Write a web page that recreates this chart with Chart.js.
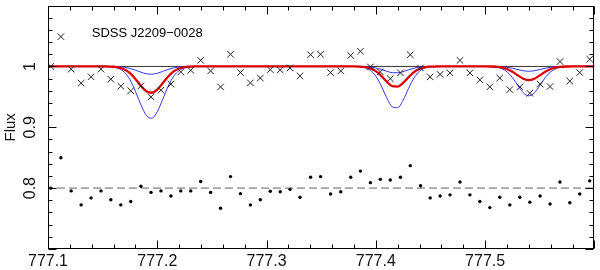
<!DOCTYPE html>
<html><head><meta charset="utf-8">
<script src="https://cdn.jsdelivr.net/npm/chart.js@4.4.1/dist/chart.umd.min.js"></script>
<style>html,body{margin:0;padding:0;background:#fff;}#wrap{width:600px;height:270px;}</style>
</head><body><div id="wrap"><canvas id="c" width="600" height="270"></canvas></div>
<script>
// ---- observed spectrum (wavelength in nm) ----
const wavelength = [777.1025,777.1118,777.1212,777.1303,777.1394,777.1485,777.1575,777.1666,777.1757,777.1850,
  777.1943,777.2034,777.2125,777.2215,777.2306,777.2397,777.2488,777.2579,777.2670,777.2761,
  777.2852,777.2943,777.3034,777.3125,777.3215,777.3306,777.3403,777.3494,777.3586,777.3679,
  777.3770,777.3859,777.3950,777.4041,777.4132,777.4225,777.4315,777.4409,777.4497,777.4588,
  777.4679,777.4770,777.4861,777.4952,777.5043,777.5134,777.5226,777.5318,777.5409,777.5503,
  777.5594,777.5685,777.5775,777.5866,777.5957];
const flux = [1.000,1.049,0.9955,0.9725,0.983,0.9955,0.979,0.9676,0.960,0.968,
  0.950,0.961,0.971,0.991,0.9938,1.010,0.9926,0.9664,1.020,0.990,
  0.973,0.981,0.9948,0.9943,0.9975,0.9845,1.0193,1.020,0.990,0.9926,
  1.018,1.025,0.9992,0.991,0.980,0.9894,1.0193,0.9975,0.9828,0.987,
  0.9894,1.010,0.9894,0.978,0.9664,0.981,0.962,0.9664,0.956,0.971,
  0.967,1.008,0.976,0.990,1.012];
const residual = [0.800,0.850,0.7955,0.7725,0.784,0.7955,0.781,0.7725,0.778,0.803,
  0.793,0.7955,0.787,0.7955,0.7955,0.811,0.793,0.767,0.819,0.791,
  0.7725,0.781,0.795,0.794,0.798,0.785,0.818,0.819,0.7905,0.794,
  0.818,0.828,0.809,0.8145,0.8135,0.818,0.837,0.804,0.784,0.787,
  0.789,0.810,0.789,0.778,0.768,0.785,0.7725,0.785,0.777,0.787,
  0.774,0.810,0.776,0.7905,0.812];

// ---- model profiles ----
const modelWave = [777.100,777.150,
  777.155,777.160,777.165,777.170,777.175,777.180,777.185,777.190,777.195,777.200,777.205,777.210,777.215,777.220,777.225,777.230,777.235,
  777.240,777.375,
  777.380,777.385,777.390,777.395,777.400,777.405,777.410,777.415,777.420,777.425,777.430,777.435,777.440,777.445,777.450,777.455,
  777.460,777.495,
  777.500,777.505,777.510,777.515,777.520,777.525,777.530,777.535,777.540,777.545,777.550,777.555,777.560,777.565,777.570,777.575,777.580,
  777.585,777.600];
const modelBest = [1.0,1.0,
  0.9999,0.9995,0.9982,0.9951,0.9889,0.9793,0.9680,0.9591,0.9568,0.9621,0.9725,0.9835,0.9918,0.9966,0.9989,0.9997,1.0,
  1.0,1.0,
  1.0,0.9998,0.9990,0.9969,0.9923,0.9844,0.9749,0.9677,0.9670,0.9731,0.9825,0.9909,0.9963,0.9988,0.9997,0.9999,
  1.0,1.0,
  1.0,0.9999,0.9995,0.9985,0.9959,0.9914,0.9853,0.9797,0.9774,0.9797,0.9853,0.9914,0.9959,0.9985,0.9995,0.9999,1.0,
  1.0,1.0];
const modelStrong = [1.0,1.0,
  0.9997,0.9989,0.9964,0.9903,0.9782,0.9593,0.9371,0.9196,0.9149,0.9255,0.9460,0.9676,0.9839,0.9934,0.9977,0.9994,0.9999,
  1.0,1.0,
  0.9999,0.9995,0.9980,0.9937,0.9841,0.9679,0.9484,0.9338,0.9322,0.9448,0.9641,0.9814,0.9923,0.9975,0.9993,0.9999,
  1.0,1.0,
  1.0,0.9997,0.9990,0.9967,0.9913,0.9816,0.9686,0.9566,0.9517,0.9566,0.9686,0.9816,0.9913,0.9967,0.9990,0.9997,1.0,
  1.0,1.0];
const modelWeak = [1.0,1.0,
  1.0,0.9998,0.9995,0.9985,0.9967,0.9939,0.9906,0.9880,0.9872,0.9888,0.9919,0.9951,0.9976,0.9990,0.9997,0.9999,1.0,
  1.0,1.0,
  1.0,0.9999,0.9997,0.9990,0.9976,0.9951,0.9921,0.9898,0.9896,0.9915,0.9945,0.9971,0.9988,0.9996,0.9999,1.0,
  1.0,1.0,
  1.0,1.0,0.9998,0.9995,0.9986,0.9970,0.9949,0.9929,0.9921,0.9929,0.9949,0.9970,0.9986,0.9995,0.9998,1.0,1.0,
  1.0,1.0];

// ---- reference levels ----
const levelWave = [777.1, 777.6];
const continuum = [1.0, 1.0];
const residualZero = [0.8, 0.8];

// ---- axes ----
const xTickValues = [777.1, 777.2, 777.3, 777.4, 777.5];
const xTickLabels = ['777.1', '777.2', '777.3', '777.4', '777.5'];
const yTickValues = [0.8, 0.9, 1.0];
const yTickLabels = ['0.8', '0.9', '1'];
const xMajor = [777.1, 777.2, 777.3, 777.4, 777.5, 777.6];
const xMinor = [777.12,777.14,777.16,777.18,777.22,777.24,777.26,777.28,777.32,777.34,777.36,777.38,
  777.42,777.44,777.46,777.48,777.52,777.54,777.56,777.58];
const yMajor = [0.7, 0.8, 0.9, 1.0, 1.1];
const yMinor = [0.72,0.74,0.76,0.78,0.82,0.84,0.86,0.88,0.92,0.94,0.96,0.98,1.02,1.04,1.06,1.08];
const objectName = 'SDSS J2209\u22120028';
const objectLabelAt = {x: 777.140, y: 1.0548};

const pts = (xs, ys) => xs.map((v, i) => ({x: v, y: ys[i]}));

Chart.defaults.font.family = "'Liberation Sans', Arial, sans-serif";
Chart.defaults.color = '#111';

const framePlugin = {
  id: 'frame',
  afterDatasetsDraw(chart) {
    const {ctx, chartArea: a, scales: {x, y}} = chart;
    ctx.save();
    ctx.strokeStyle = '#000';
    ctx.lineWidth = 1;
    const L = Math.round(a.left) + 0.5, R = Math.round(a.right) - 0.5;
    const T = Math.round(a.top) + 0.5, B = Math.round(a.bottom) - 0.5;
    ctx.strokeRect(L, T, R - L, B - T);
    ctx.beginPath();
    const xt = (v, len) => {
      const p = Math.round(x.getPixelForValue(v)) + 0.5;
      ctx.moveTo(p, B); ctx.lineTo(p, B - len);
      ctx.moveTo(p, T); ctx.lineTo(p, T + len);
    };
    const yt = (v, len) => {
      const p = Math.round(y.getPixelForValue(v)) + 0.5;
      ctx.moveTo(L, p); ctx.lineTo(L + len, p);
      ctx.moveTo(R, p); ctx.lineTo(R - len, p);
    };
    xMajor.forEach(v => xt(v, 8));
    xMinor.forEach(v => xt(v, 4));
    yMajor.forEach(v => yt(v, 8));
    yMinor.forEach(v => yt(v, 4));
    ctx.stroke();
    ctx.fillStyle = '#000';
    ctx.font = "13px 'Liberation Sans', Arial, sans-serif";
    ctx.textAlign = 'left';
    ctx.textBaseline = 'middle';
    ctx.fillText(objectName, x.getPixelForValue(objectLabelAt.x), y.getPixelForValue(objectLabelAt.y));
    ctx.restore();
  }
};

new Chart(document.getElementById('c'), {
  type: 'line',
  data: {
    datasets: [
      {label: 'flux', data: pts(wavelength, flux), showLine: false, pointStyle: 'crossRot',
       pointRadius: 4.6, borderColor: '#222', borderWidth: 1, backgroundColor: '#222', order: 0},
      {label: 'residual', data: pts(wavelength, residual), showLine: false, pointStyle: 'circle',
       pointRadius: 1.7, borderWidth: 0, backgroundColor: '#000', borderColor: '#000', order: 0},
      {label: 'best', data: pts(modelWave, modelBest), borderColor: '#e00000', borderWidth: 2.3,
       pointRadius: 0, cubicInterpolationMode: 'monotone', order: 1},
      {label: 'strong', data: pts(modelWave, modelStrong), borderColor: '#3535ee', borderWidth: 1,
       pointRadius: 0, cubicInterpolationMode: 'monotone', order: 2},
      {label: 'weak', data: pts(modelWave, modelWeak), borderColor: '#3535ee', borderWidth: 1,
       pointRadius: 0, cubicInterpolationMode: 'monotone', order: 2},
      {label: 'continuum', data: pts(levelWave, continuum), borderColor: '#333', borderWidth: 1,
       pointRadius: 0, order: 3},
      {label: 'zero', data: pts(levelWave, residualZero), borderColor: '#a6a6a6', borderWidth: 1.8,
       borderDash: [8, 4], borderDashOffset: 3, pointRadius: 0, order: 4}
    ]
  },
  options: {
    responsive: false,
    animation: false,
    devicePixelRatio: 1,
    layout: {padding: {top: 4, right: 2, left: 0, bottom: 0}},
    plugins: {legend: {display: false}, tooltip: {enabled: false}},
    scales: {
      x: {
        type: 'linear', min: 777.1, max: 777.6,
        afterBuildTicks: s => { s.ticks = xTickValues.map(v => ({value: v})); },
        afterFit: s => { s.height = 21; s.paddingLeft = 0; s.paddingRight = 0; },
        grid: {display: false, drawTicks: false}, border: {display: false},
        ticks: {font: {size: 16}, padding: 3, maxRotation: 0, autoSkip: false,
          callback: (v, i) => xTickLabels[i]}
      },
      y: {
        type: 'linear', min: 0.7, max: 1.1,
        afterBuildTicks: s => { s.ticks = yTickValues.map(v => ({value: v})); },
        afterFit: s => { s.width = 48; s.paddingTop = 0; s.paddingBottom = 0; },
        grid: {display: false, drawTicks: false}, border: {display: false},
        title: {display: true, text: 'Flux', font: {size: 15}, padding: {top: 2, bottom: 0}},
        ticks: {font: {size: 16}, padding: 6, minRotation: 90, maxRotation: 90, crossAlign: 'center',
          autoSkip: false, callback: (v, i) => yTickLabels[i]}
      }
    }
  },
  plugins: [framePlugin]
});
</script></body></html>
